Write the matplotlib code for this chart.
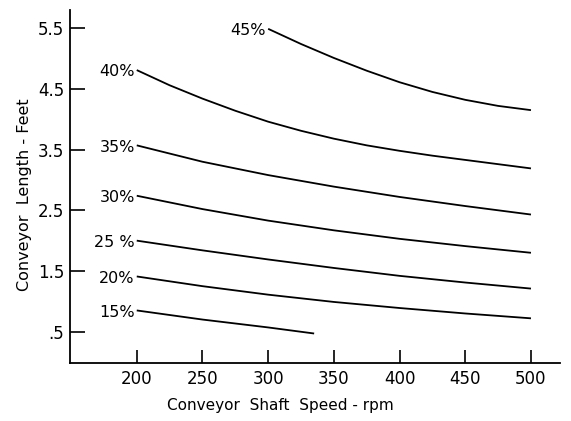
import matplotlib
matplotlib.use("Agg")
import matplotlib.pyplot as plt

# conveyor length (ft) vs shaft speed (rpm), one curve per slope percentage
speed_45 = [300, 325, 350, 375, 400, 425, 450, 475, 500]
length_45 = [5.49, 5.24, 5.01, 4.80, 4.61, 4.45, 4.32, 4.22, 4.15]

speed_40 = [200, 225, 250, 275, 300, 325, 350, 375, 400, 425, 450, 475, 500]
length_40 = [4.81, 4.56, 4.34, 4.14, 3.96, 3.81, 3.68, 3.57, 3.48, 3.40,
             3.33, 3.26, 3.19]

speed_35 = [200, 250, 300, 350, 400, 450, 500]
length_35 = [3.57, 3.30, 3.08, 2.89, 2.72, 2.57, 2.43]

speed_30 = [200, 250, 300, 350, 400, 450, 500]
length_30 = [2.74, 2.52, 2.33, 2.17, 2.03, 1.91, 1.80]

speed_25 = [200, 250, 300, 350, 400, 450, 500]
length_25 = [2.00, 1.84, 1.69, 1.55, 1.42, 1.31, 1.21]

speed_20 = [200, 250, 300, 350, 400, 450, 500]
length_20 = [1.41, 1.25, 1.11, 0.99, 0.89, 0.80, 0.72]

speed_15 = [200, 250, 300, 335]
length_15 = [0.85, 0.70, 0.57, 0.47]

curve_labels = ["45%", "40%", "35%", "30%", "25 %", "20%", "15%"]
curves = [(speed_45, length_45), (speed_40, length_40), (speed_35, length_35),
          (speed_30, length_30), (speed_25, length_25), (speed_20, length_20),
          (speed_15, length_15)]

x_ticks = [200, 250, 300, 350, 400, 450, 500]
y_ticks = [0.5, 1.5, 2.5, 3.5, 4.5, 5.5]
y_ticklabels = [".5", "1.5", "2.5", "3.5", "4.5", "5.5"]

fig = plt.figure(figsize=(5.71, 4.21), dpi=100)
ax = fig.add_axes([70 / 571, 58.3 / 421, 490 / 571, 352.7 / 421])

for (sx, sy), label in zip(curves, curve_labels):
    ax.plot(sx, sy, color="black", lw=1.3, solid_capstyle="butt",
            solid_joinstyle="round")
    # label sits just left of where each curve starts
    ax.text(sx[0] - 1.5, sy[0] - 0.03, label, ha="right", va="center",
            fontsize=11.5, color="black")

ax.set_xlim(149.2, 522.1)
ax.set_ylim(-0.011, 5.80)

ax.spines["top"].set_visible(False)
ax.spines["right"].set_visible(False)
for side in ("left", "bottom"):
    ax.spines[side].set_linewidth(1.3)

ax.set_xticks(x_ticks)
ax.set_yticks(y_ticks)
ax.set_yticklabels(y_ticklabels)
ax.tick_params(axis="x", direction="in", length=9.5, width=1.2, pad=5,
               labelsize=12)
ax.tick_params(axis="y", direction="in", length=10.8, width=1.2, pad=4,
               labelsize=12)

ax.set_xlabel("Conveyor  Shaft  Speed - rpm", fontsize=11)
ax.xaxis.set_label_coords(0.43, -0.10)
ax.set_ylabel("Conveyor  Length - Feet", fontsize=11.5)
ax.yaxis.set_label_coords(-0.078, 0.475)

fig.savefig("out.png", dpi=100, facecolor="white")
